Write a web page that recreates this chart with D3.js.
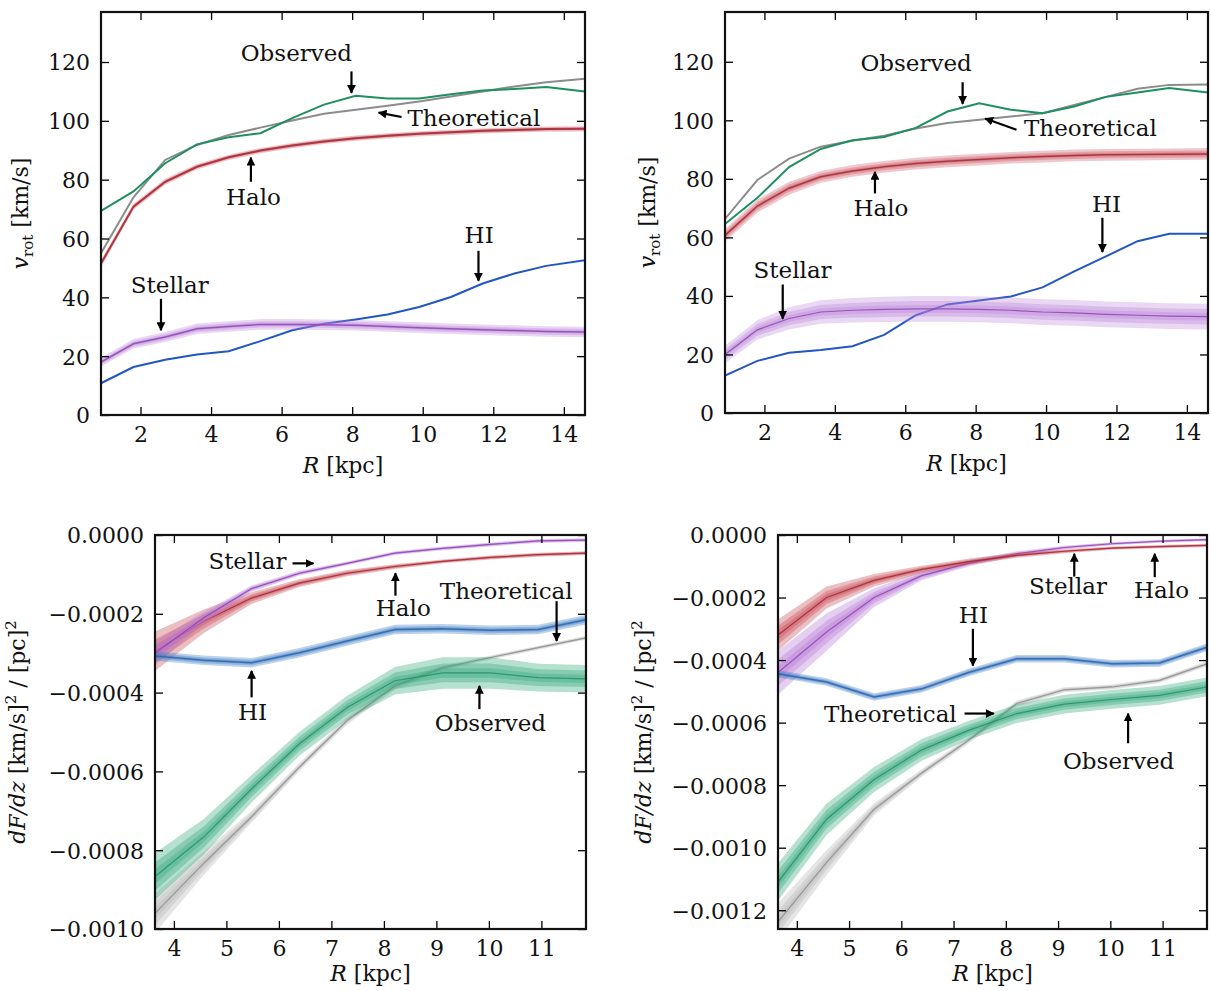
<!DOCTYPE html>
<html>
<head>
<meta charset="utf-8">
<script src="https://cdn.jsdelivr.net/npm/d3@7"></script>
<style>
  body { margin: 0; background: #fff; }
  svg text { font-family: "DejaVu Serif", serif; }
</style>
</head>
<body>
<div id="chart"></div>
<script>
// radius grids (kpc)
const rTop = [0.88, 1.8, 2.7, 3.6, 4.5, 5.4, 6.3, 7.2, 8.1, 9.0, 9.9, 10.8, 11.7, 12.6, 13.5, 14.6];
const rBottom = [3.64, 4.57, 5.48, 6.39, 7.30, 8.21, 9.12, 10.03, 10.94, 11.85];

// top-left: rotation curves (km/s)
const tlObserved    = [69.4, 76, 85.6, 92, 94.4, 95.8, 100.9, 105.5, 108.5, 107.6, 107.6, 109, 110.3, 110.8, 111.5, 110];
const tlTheoretical = [55, 74, 86.7, 91.8, 95.2, 97.7, 100.1, 102.4, 103.8, 105.1, 106.6, 108.3, 110, 111.7, 113.1, 114.3];
const tlHalo        = [51.5, 70.8, 79.3, 84.4, 87.6, 89.9, 91.6, 93, 94.1, 94.9, 95.6, 96.1, 96.6, 96.9, 97.2, 97.3];
const tlStellar     = [18, 24.2, 26.5, 29.3, 30.1, 30.8, 30.8, 30.7, 30.5, 30.1, 29.7, 29.3, 29, 28.7, 28.4, 28.2];
const tlHI          = [10.8, 16.3, 18.8, 20.6, 21.7, 25.1, 28.8, 31, 32.5, 34.2, 36.7, 40.1, 44.7, 48.1, 50.7, 52.6];
const tlHaloErr     = [1.2, 1, 1, 0.9, 0.9, 0.9, 0.9, 0.9, 0.9, 0.9, 0.9, 0.9, 0.9, 0.9, 0.9, 0.9];
const tlStellarErr  = [1.5, 1.6, 1.7, 1.8, 1.8, 1.8, 1.8, 1.8, 1.8, 1.8, 1.8, 1.8, 1.8, 1.8, 1.8, 1.8];

// top-right: rotation curves (km/s)
const trObserved    = [64.6, 73.5, 84, 90.2, 93.2, 94.3, 97.4, 103, 105.8, 103.6, 102.4, 104.7, 108, 109.5, 111, 109.5];
const trTheoretical = [66.3, 79.6, 86.9, 91, 93, 94.7, 97.2, 99.1, 100.2, 101.3, 102.4, 105.2, 108, 110.8, 112.1, 112.2];
const trHalo        = [60.7, 70.7, 76.8, 80.7, 82.7, 84.1, 85.2, 86, 86.6, 87.2, 87.6, 88, 88.2, 88.3, 88.4, 88.5];
const trStellar     = [20, 28.4, 32.3, 34.5, 35.1, 35.4, 35.6, 35.6, 35.4, 35.1, 34.5, 34.2, 33.7, 33.4, 33.1, 32.9];
const trHI          = [12.8, 17.8, 20.6, 21.5, 22.8, 26.7, 33.4, 37.1, 38.4, 39.8, 42.9, 48.4, 53.5, 58.7, 61.2, 61.2];
const trHaloErr     = [2.2, 2.2, 2.2, 2, 2, 2, 2, 2, 2, 2, 2, 2, 2, 2, 2, 2];
const trStellarErr  = [3, 3.3, 3.8, 4, 4.2, 4.3, 4.4, 4.4, 4.4, 4.4, 4.4, 4.4, 4.4, 4.4, 4.4, 4.4];

// bottom-left: dF/dz (units of 1e-4 (km/s)^2/pc^2)
const blObserved    = [-8.67, -7.66, -6.44, -5.3, -4.38, -3.7, -3.5, -3.5, -3.62, -3.65];
const blTheoretical = [-9.6, -8.33, -7.15, -5.89, -4.71, -3.83, -3.37, -3.11, -2.86, -2.61];
const blHalo        = [-2.95, -2.19, -1.6, -1.22, -0.97, -0.8, -0.67, -0.57, -0.5, -0.46];
const blStellar     = [-3.0, -2.1, -1.36, -0.97, -0.72, -0.46, -0.34, -0.24, -0.15, -0.13];
const blHI          = [-3.07, -3.18, -3.24, -2.99, -2.69, -2.4, -2.38, -2.42, -2.4, -2.15];
const blObservedErr = [0.6, 0.45, 0.35, 0.3, 0.3, 0.35, 0.4, 0.4, 0.35, 0.35];
const blTheoErr     = [0.5, 0.3, 0.15, 0.1, 0.1, 0.1, 0.06, 0.05, 0.05, 0.05];
const blHaloErr     = [0.5, 0.3, 0.15, 0.1, 0.08, 0.06, 0.05, 0.05, 0.05, 0.05];
const blStellarErr  = [0.3, 0.15, 0.08, 0.06, 0.05, 0.05, 0.05, 0.05, 0.05, 0.05];
const blHIErr       = [0.12, 0.12, 0.12, 0.12, 0.12, 0.12, 0.12, 0.12, 0.12, 0.12];

// bottom-right: dF/dz (units of 1e-4)
const brObserved    = [-11.1, -9.09, -7.82, -6.87, -6.24, -5.71, -5.41, -5.26, -5.13, -4.86];
const brTheoretical = [-12.37, -10.47, -8.77, -7.61, -6.55, -5.39, -4.95, -4.86, -4.65, -4.12];
const brHalo        = [-3.2, -2.0, -1.45, -1.1, -0.85, -0.65, -0.52, -0.42, -0.37, -0.33];
const brStellar     = [-4.4, -3.1, -2.0, -1.3, -0.9, -0.6, -0.4, -0.28, -0.2, -0.15];
const brHI          = [-4.44, -4.7, -5.18, -4.92, -4.39, -3.96, -3.96, -4.12, -4.09, -3.59];
const brObservedErr = [0.6, 0.5, 0.4, 0.35, 0.3, 0.3, 0.3, 0.3, 0.3, 0.3];
const brTheoErr     = [0.6, 0.4, 0.2, 0.12, 0.1, 0.1, 0.08, 0.08, 0.08, 0.08];
const brHaloErr     = [0.5, 0.35, 0.2, 0.12, 0.1, 0.08, 0.06, 0.05, 0.05, 0.05];
const brStellarErr  = [0.7, 0.6, 0.3, 0.15, 0.1, 0.08, 0.06, 0.05, 0.05, 0.05];
const brHIErr       = [0.12, 0.12, 0.12, 0.12, 0.12, 0.12, 0.12, 0.12, 0.12, 0.12];

// tick values
const topXTicks = [2, 4, 6, 8, 10, 12, 14];
const topYTicks = [0, 20, 40, 60, 80, 100, 120];
const bottomXTicks = [4, 5, 6, 7, 8, 9, 10, 11];
const blYTicks = [0, -2, -4, -6, -8, -10];
const brYTicks = [0, -2, -4, -6, -8, -10, -12];

// labels: text, text centre (x, y), arrow from (x1, y1) to (x2, y2) in data units
const tlLabels = [
  ["Observed", 6.42, 123, 7.98, 116.8, 7.98, 109.5],
  ["Theoretical", 11.45, 100.9, 9.4, 101.3, 8.75, 102.8],
  ["Halo", 5.2, 74.2, 5.13, 79.3, 5.13, 87.5],
  ["HI", 11.6, 61.1, 11.58, 55.8, 11.58, 45.6],
  ["Stellar", 2.83, 44.1, 2.58, 39.5, 2.58, 28.8]
];
const trLabels = [
  ["Observed", 6.31, 119.5, 7.63, 113, 7.63, 105.6],
  ["Theoretical", 11.26, 97.5, 9.16, 96.8, 8.27, 100.6],
  ["Halo", 5.31, 70, 5.14, 75, 5.14, 82.4],
  ["HI", 11.72, 71.5, 11.6, 66.7, 11.6, 55],
  ["Stellar", 2.8, 48.9, 2.52, 43.9, 2.52, 32.2]
];
const blLabels = [
  ["Stellar", 5.4, -0.66, 6.26, -0.72, 6.66, -0.72],
  ["Halo", 8.37, -1.86, 8.22, -1.54, 8.22, -0.97],
  ["Theoretical", 10.33, -1.41, 11.29, -1.68, 11.29, -2.69],
  ["HI", 5.5, -4.5, 5.48, -4.12, 5.48, -3.45],
  ["Observed", 10.03, -4.78, 9.82, -4.42, 9.82, -3.83]
];
const brLabels = [
  ["Stellar", 9.19, -1.62, 9.31, -1.33, 9.31, -0.6],
  ["Halo", 10.98, -1.77, 10.85, -1.35, 10.85, -0.6],
  ["HI", 7.38, -2.55, 7.37, -3.0, 7.37, -4.18],
  ["Theoretical", 5.79, -5.71, 7.21, -5.71, 7.77, -5.71],
  ["Observed", 10.16, -7.22, 10.34, -6.66, 10.34, -5.71]
];

const colors = {
  observed: { line: "#1f8f62", band: "#36a87c" },
  theoretical: { line: "#8c8c8c", band: "#b8b8b8" },
  halo: { line: "#a3222c", band: "#c84a57" },
  stellar: { line: "#8c3fb2", band: "#b77ad6" },
  hi: { line: "#2a62b0", band: "#4682c4" },
  hiTop: { line: "#2256c2" }
};

const width = 1211, height = 991;
const svg = d3.select("#chart").append("svg")
  .attr("width", width)
  .attr("height", height);

const defs = svg.append("defs");
defs.append("marker")
  .attr("id", "arrow")
  .attr("viewBox", "0 0 10 10")
  .attr("refX", 9).attr("refY", 5)
  .attr("markerWidth", 4).attr("markerHeight", 4)
  .attr("markerUnits", "strokeWidth")
  .attr("orient", "auto")
  .append("path")
  .attr("d", "M0,0 L10,5 L0,10 z")
  .attr("fill", "#000");

const panels = [
  {
    id: "tl", left: 101, right: 585, top: 12, bottom: 415,
    xDomain: [0.88, 14.6], yDomain: [0, 137], r: rTop,
    xTicks: topXTicks, yTicks: topYTicks, yFormat: d3.format("d"),
    labelOffset: -73, xLabelGap: 58, labels: tlLabels, kind: "vrot", bandOpacity: 0.3,
    series: [
      { v: tlHI, c: colors.hiTop, w: 2 },
      { v: tlStellar, e: tlStellarErr, c: colors.stellar, w: 1.5 },
      { v: tlHalo, e: tlHaloErr, c: colors.halo, w: 2 },
      { v: tlTheoretical, c: colors.theoretical, w: 2 },
      { v: tlObserved, c: colors.observed, w: 2 }
    ]
  },
  {
    id: "tr", left: 725, right: 1208, top: 12, bottom: 413,
    xDomain: [0.88, 14.6], yDomain: [0, 137], r: rTop,
    xTicks: topXTicks, yTicks: topYTicks, yFormat: d3.format("d"),
    labelOffset: -70, xLabelGap: 58, labels: trLabels, kind: "vrot", bandOpacity: 0.3,
    series: [
      { v: trHI, c: colors.hiTop, w: 2 },
      { v: trStellar, e: trStellarErr, c: colors.stellar, w: 1.2 },
      { v: trHalo, e: trHaloErr, c: colors.halo, w: 1.5 },
      { v: trTheoretical, c: colors.theoretical, w: 2 },
      { v: trObserved, c: colors.observed, w: 2 }
    ]
  },
  {
    id: "bl", left: 155, right: 586, top: 535, bottom: 929,
    xDomain: [3.64, 11.85], yDomain: [-10, 0], r: rBottom,
    xTicks: bottomXTicks, yTicks: blYTicks, yFormat: d => d3.format(".4f")(d / 10000),
    labelOffset: -130, xLabelGap: 52, labels: blLabels, kind: "dfdz", bandOpacity: 0.36,
    series: [
      { v: blHalo, e: blHaloErr, c: colors.halo, w: 1.2 },
      { v: blStellar, e: blStellarErr, c: colors.stellar, w: 1.2 },
      { v: blHI, e: blHIErr, c: colors.hi, w: 1.5 },
      { v: blTheoretical, e: blTheoErr, c: colors.theoretical, w: 1.2 },
      { v: blObserved, e: blObservedErr, c: colors.observed, w: 1.2 }
    ]
  },
  {
    id: "br", left: 778, right: 1207, top: 535, bottom: 929,
    xDomain: [3.64, 11.85], yDomain: [-12.6, 0], r: rBottom,
    xTicks: bottomXTicks, yTicks: brYTicks, yFormat: d => d3.format(".4f")(d / 10000),
    labelOffset: -127, xLabelGap: 52, labels: brLabels, kind: "dfdz", bandOpacity: 0.36,
    series: [
      { v: brStellar, e: brStellarErr, c: colors.stellar, w: 1.2 },
      { v: brHalo, e: brHaloErr, c: colors.halo, w: 1.2 },
      { v: brHI, e: brHIErr, c: colors.hi, w: 1.5 },
      { v: brTheoretical, e: brTheoErr, c: colors.theoretical, w: 1.2 },
      { v: brObserved, e: brObservedErr, c: colors.observed, w: 1.2 }
    ]
  }
];

panels.forEach(drawPanel);

function drawPanel(p) {
  const w = p.right - p.left, h = p.bottom - p.top;
  const g = svg.append("g").attr("transform", `translate(${p.left},${p.top})`);

  const x = d3.scaleLinear().domain(p.xDomain).range([0, w]);
  const y = d3.scaleLinear().domain(p.yDomain).range([h, 0]);

  defs.append("clipPath").attr("id", "clip-" + p.id)
    .append("rect").attr("width", w).attr("height", h);

  const plot = g.append("g").attr("clip-path", `url(#clip-${p.id})`);

  p.series.forEach(s => {
    const pts = p.r.map((r, i) => ({ r, v: s.v[i], e: s.e ? s.e[i] : 0 }));
    if (s.e) {
      // error band drawn as overlapping translucent layers
      [1, 0.6, 0.3].forEach(k => {
        plot.append("path")
          .datum(pts)
          .attr("fill", s.c.band)
          .attr("opacity", p.bandOpacity)
          .attr("d", d3.area()
            .x(d => x(d.r))
            .y0(d => y(d.v - d.e * k))
            .y1(d => y(d.v + d.e * k)));
      });
    }
    plot.append("path")
      .datum(pts)
      .attr("fill", "none")
      .attr("stroke", s.c.line)
      .attr("stroke-width", s.w)
      .attr("stroke-opacity", s.e ? 0.8 : 1)
      .attr("d", d3.line().x(d => x(d.r)).y(d => y(d.v)));
  });

  // axes with inward ticks on all sides
  g.append("g").attr("transform", `translate(0,${h})`)
    .call(d3.axisBottom(x).tickValues(p.xTicks).tickSizeInner(-8).tickSizeOuter(0).tickPadding(11));
  const yAxis = g.append("g")
    .call(d3.axisLeft(y).tickValues(p.yTicks).tickFormat(p.yFormat).tickSizeInner(-8).tickSizeOuter(0).tickPadding(11));
  g.append("g")
    .call(d3.axisTop(x).tickValues(p.xTicks).tickSizeInner(-8).tickSizeOuter(0).tickFormat(""));
  g.append("g").attr("transform", `translate(${w},0)`)
    .call(d3.axisRight(y).tickValues(p.yTicks).tickSizeInner(-8).tickSizeOuter(0).tickFormat(""));

  g.selectAll(".domain").remove();
  g.selectAll(".tick line").attr("stroke", "#000").attr("stroke-width", 1.3);
  g.selectAll(".tick text").attr("font-size", 22).attr("fill", "#111")
    .attr("font-family", "DejaVu Serif");
  yAxis.selectAll(".tick text").attr("dy", "0.36em");

  g.append("rect")
    .attr("width", w).attr("height", h)
    .attr("fill", "none").attr("stroke", "#111").attr("stroke-width", 2.2);

  // x label
  const xl = g.append("text")
    .attr("x", w / 2).attr("y", h + p.xLabelGap)
    .attr("text-anchor", "middle")
    .attr("font-size", 22).attr("fill", "#111");
  xl.append("tspan").attr("font-style", "italic").text("R");
  xl.append("tspan").text(" [kpc]");

  // y label
  const yl = g.append("text")
    .attr("transform", `translate(${p.labelOffset},${h / 2}) rotate(-90)`)
    .attr("text-anchor", "middle")
    .attr("font-size", 22).attr("fill", "#111");
  if (p.kind === "vrot") {
    yl.append("tspan").attr("font-style", "italic").text("v");
    yl.append("tspan").attr("font-size", 15).attr("dy", 5).text("rot");
    yl.append("tspan").attr("dy", -5).text(" [km/s]");
  } else {
    yl.append("tspan").attr("font-style", "italic").text("dF/dz");
    yl.append("tspan").text(" [km/s]");
    yl.append("tspan").attr("font-size", 15).attr("dy", -9).text("2");
    yl.append("tspan").attr("dy", 9).text("  / [pc]");
    yl.append("tspan").attr("font-size", 15).attr("dy", -9).text("2");
  }

  // annotations
  p.labels.forEach(([txt, tx, ty, x1, y1, x2, y2]) => {
    g.append("text")
      .attr("x", x(tx)).attr("y", y(ty))
      .attr("dy", "0.35em")
      .attr("text-anchor", "middle")
      .attr("font-size", 23).attr("fill", "#111")
      .text(txt);
    g.append("line")
      .attr("x1", x(x1)).attr("y1", y(y1))
      .attr("x2", x(x2)).attr("y2", y(y2))
      .attr("stroke", "#000").attr("stroke-width", 2.2)
      .attr("marker-end", "url(#arrow)");
  });
}
</script>
</body>
</html>
